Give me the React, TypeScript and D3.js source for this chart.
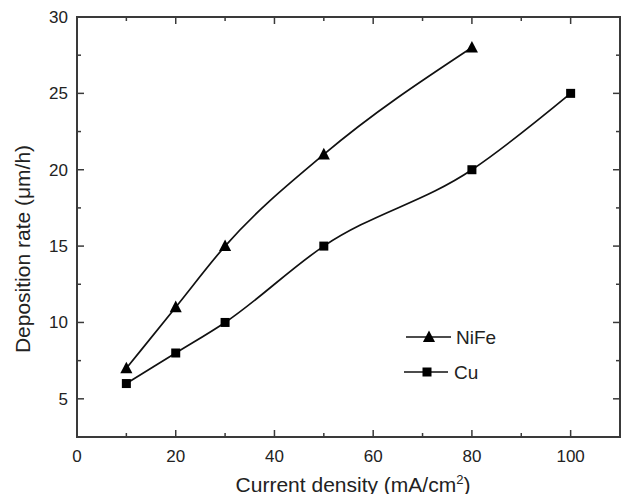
import React from "react";
import * as d3 from "d3";

const nifeX = [10, 20, 30, 50, 80];
const nifeY = [7, 11, 15, 21, 28];
const cuX = [10, 20, 30, 50, 80, 100];
const cuY = [6, 8, 10, 15, 20, 25];
const xTicks = [0, 20, 40, 60, 80, 100];
const xMinor = [10, 30, 50, 70, 90];
const yTicks = [5, 10, 15, 20, 25, 30];
const yMinor = [2.5, 7.5, 12.5, 17.5, 22.5, 27.5];
const legendNames = ["NiFe", "Cu"];

export default function App() {
  const W = 626, H = 494;
  const L = 77, R = 620, T = 17, B = 437;
  const x = d3.scaleLinear().domain([0, 110]).range([L, R]);
  const y = d3.scaleLinear().domain([2.5, 30]).range([B, T]);
  const line = d3
    .line<[number, number]>()
    .x((d) => x(d[0]))
    .y((d) => y(d[1]))
    .curve(d3.curveMonotoneX);
  const nife = nifeX.map((v, i) => [v, nifeY[i]] as [number, number]);
  const cu = cuX.map((v, i) => [v, cuY[i]] as [number, number]);
  const ax = "#3a3a3a";
  const tri = (cx: number, cy: number, s: number) =>
    `M${cx},${cy - s * 0.6}L${cx + s * 0.55},${cy + s * 0.45}L${cx - s * 0.55},${cy + s * 0.45}Z`;
  const font = "'Liberation Sans', Arial, sans-serif";
  return (
    <svg width={W} height={H} style={{ position: "absolute", left: 0, top: 0 }} fontFamily={font}>
      <rect width={W} height={H} fill="white" />
      {xTicks.map((t) => (
        <g key={"xt" + t}>
          <line x1={x(t)} x2={x(t)} y1={B} y2={B - 7} stroke={ax} strokeWidth={1.5} />
          <line x1={x(t)} x2={x(t)} y1={T} y2={T + 7} stroke={ax} strokeWidth={1.5} />
          <text x={x(t)} y={462} textAnchor="middle" fontSize={17} fill="#222">{t}</text>
        </g>
      ))}
      {xMinor.map((t) => (
        <g key={"xm" + t}>
          <line x1={x(t)} x2={x(t)} y1={B} y2={B - 4} stroke={ax} strokeWidth={1.5} />
          <line x1={x(t)} x2={x(t)} y1={T} y2={T + 4} stroke={ax} strokeWidth={1.5} />
        </g>
      ))}
      {yTicks.map((t) => (
        <g key={"yt" + t}>
          <line x1={L} x2={L + 7} y1={y(t)} y2={y(t)} stroke={ax} strokeWidth={1.5} />
          <line x1={R} x2={R - 7} y1={y(t)} y2={y(t)} stroke={ax} strokeWidth={1.5} />
          <text x={68} y={y(t) + 6} textAnchor="end" fontSize={17} fill="#222">{t}</text>
        </g>
      ))}
      {yMinor.map((t) => (
        <g key={"ym" + t}>
          <line x1={L} x2={L + 4} y1={y(t)} y2={y(t)} stroke={ax} strokeWidth={1.5} />
          <line x1={R} x2={R - 4} y1={y(t)} y2={y(t)} stroke={ax} strokeWidth={1.5} />
        </g>
      ))}
      <rect x={L} y={T} width={R - L} height={B - T} fill="none" stroke={ax} strokeWidth={2} />
      <path d={line(nife) || ""} fill="none" stroke="#111" strokeWidth={1.7} />
      <path d={line(cu) || ""} fill="none" stroke="#111" strokeWidth={1.7} />
      {nife.map((d, i) => (
        <path key={"n" + i} d={tri(x(d[0]), y(d[1]), 11)} fill="#000" />
      ))}
      {cu.map((d, i) => (
        <rect key={"c" + i} x={x(d[0]) - 4.5} y={y(d[1]) - 4.5} width={9} height={9} fill="#000" />
      ))}
      <line x1={406} x2={451} y1={337} y2={337} stroke="#111" strokeWidth={1.7} />
      <path d={tri(429, 337, 11)} fill="#000" />
      <text x={456} y={344} fontSize={19} fill="#222">{legendNames[0]}</text>
      <line x1={404} x2={448} y1={372} y2={372} stroke="#111" strokeWidth={1.7} />
      <rect x={422.5} y={367.5} width={9} height={9} fill="#000" />
      <text x={454} y={379} fontSize={19} fill="#222">{legendNames[1]}</text>
      <text x={353} y={492} textAnchor="middle" fontSize={21} fill="#222">
        Current density (mA/cm<tspan dy={-8} fontSize={13}>2</tspan><tspan dy={8}>)</tspan>
      </text>
      <text transform={`translate(30,249) rotate(-90)`} textAnchor="middle" fontSize={21} fill="#222">
        Deposition rate (μm/h)
      </text>
    </svg>
  );
}
